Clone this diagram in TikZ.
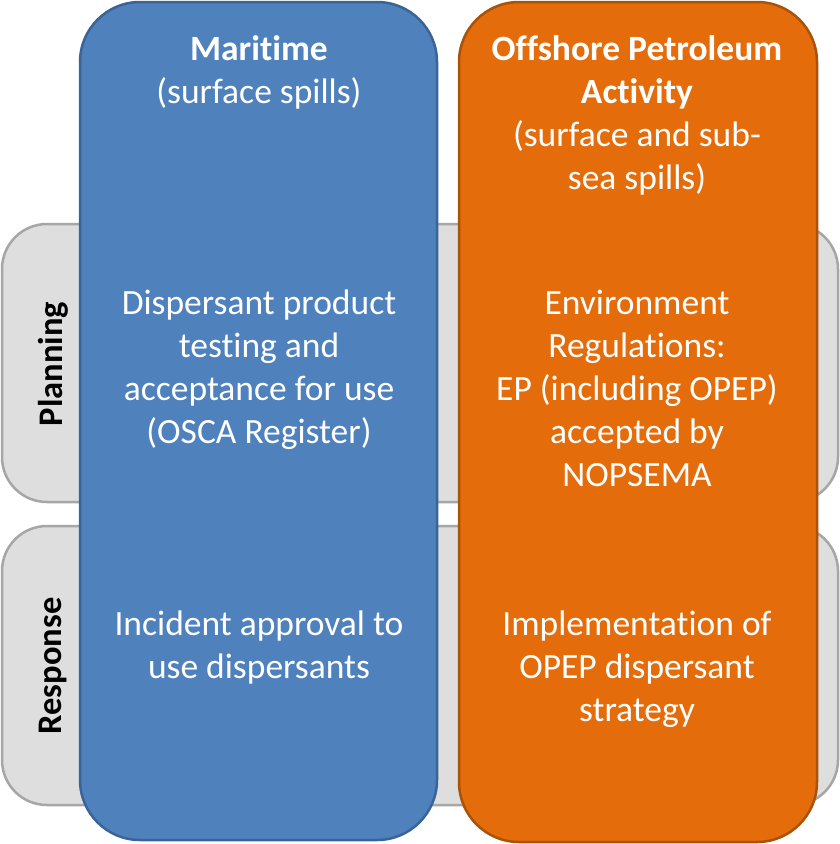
\documentclass[tikz,border=0pt]{standalone}
\usepackage{fontspec}
\setmainfont[Ligatures=CommonOff]{Carlito}
\definecolor{mblue}{HTML}{4F81BD}
\definecolor{mblueb}{HTML}{3A6497}
\definecolor{morange}{HTML}{E46C0A}
\definecolor{moranb}{HTML}{A95208}
\definecolor{rowgrey}{HTML}{DEDEDE}
\definecolor{rowedge}{HTML}{A6A6A6}
\tikzset{
  rowbox/.style={draw=rowedge, fill=rowgrey, line width=2.5pt, rounded corners=45pt},
  bluecol/.style={draw=mblueb, fill=mblue, line width=2.5pt, rounded corners=60pt},
  orangecol/.style={draw=moranb, fill=morange, line width=2.5pt, rounded corners=60pt},
  coltext/.style={text=white, align=center, font=\fontsize{35.5}{43}\selectfont, inner sep=0pt},
  rowlabel/.style={text=black, font=\bfseries\fontsize{34.5}{40}\selectfont, rotate=90, inner sep=0pt}
}
\begin{document}
\begin{tikzpicture}[x=1pt,y=-1pt]
\useasboundingbox (0,0) rectangle (840,844);
\fill[white] (0,0) rectangle (840,844);
% rows
\draw[rowbox] (2,224) rectangle (838,502);
\draw[rowbox] (2,526) rectangle (838,805);
% columns
\draw[bluecol] (80,2) rectangle (437,840);
\draw[orangecol] (459,2) rectangle (817,842);
% row labels
\node[rowlabel] (plan) at (53,364) {Planning};
\node[rowlabel] (resp) at (53,666) {Response};
% blue column text
\node[coltext, anchor=north] (mt) at (259,35) {\textbf{Maritime}\\(surface spills)};
\node[coltext, anchor=north] (mp) at (259,290) {Dispersant product\\testing and\\acceptance for use\\(OSCA Register)};
\node[coltext, anchor=north] (mr) at (259,611) {Incident approval to\\use dispersants};
% orange column text
\node[coltext, anchor=north] (ot) at (637,35) {\textbf{Offshore Petroleum}\\\textbf{Activity}\\(surface and sub-\\sea spills)};
\node[coltext, anchor=north] (op) at (637,290) {Environment\\Regulations:\\EP (including OPEP)\\accepted by\\NOPSEMA};
\node[coltext, anchor=north] (or) at (637,611) {Implementation of\\OPEP dispersant\\strategy};
\end{tikzpicture}
\end{document}
